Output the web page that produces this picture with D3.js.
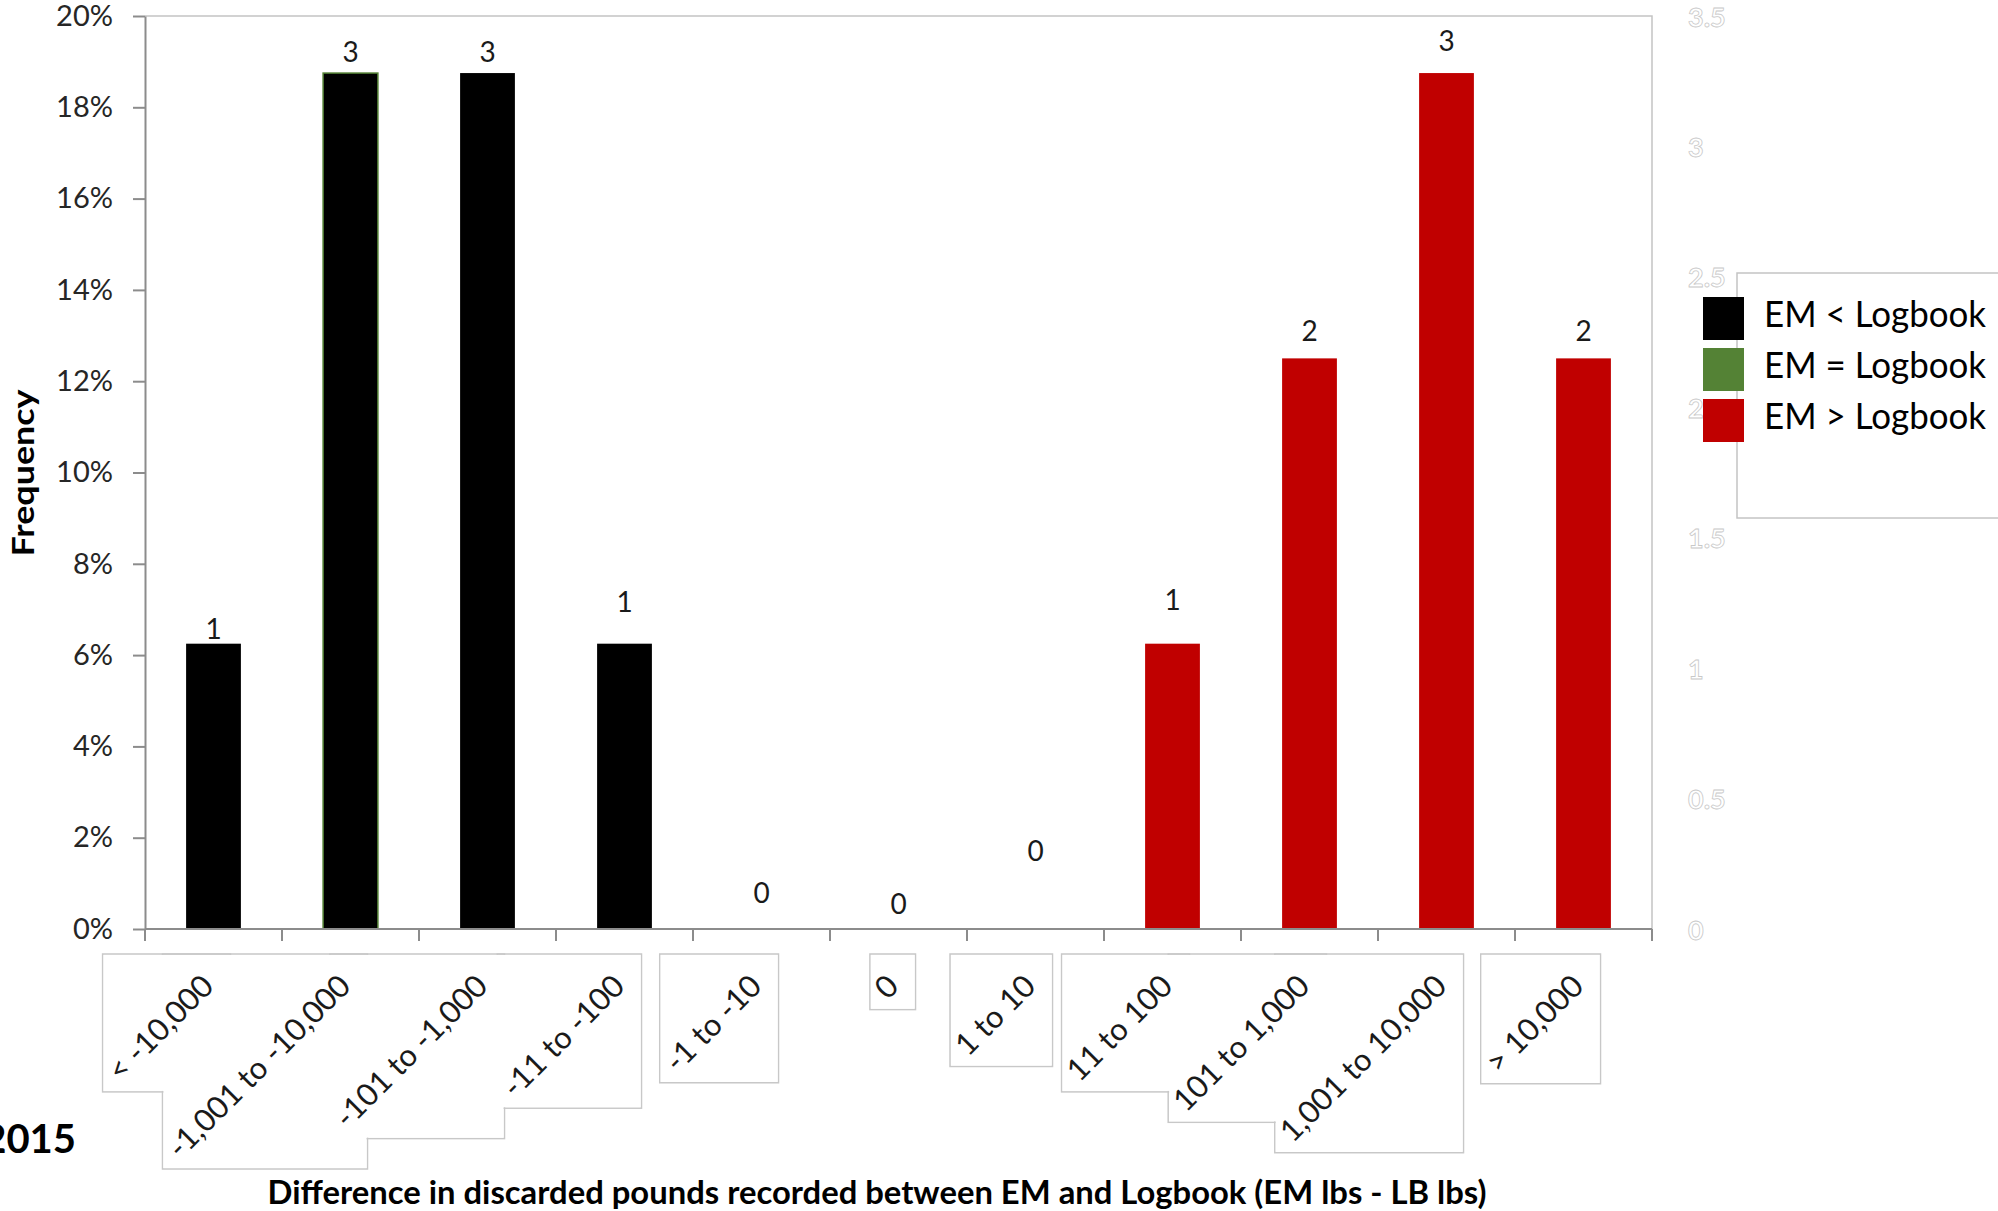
<!DOCTYPE html>
<html><head><meta charset="utf-8">
<script src="https://cdn.jsdelivr.net/npm/d3@7"></script>
<style>body{margin:0;background:#fff;} svg{display:block;font-family:Lato,"Open Sans",sans-serif;}</style>
</head><body>
<svg id="chart" width="1998" height="1211"></svg>
<script>
// ---------------- data ----------------
const categories = ["< -10,000","-1,001 to -10,000","-101 to -1,000","-11 to -100","-1 to -10","0","1 to 10","11 to 100","101 to 1,000","1,001 to 10,000","> 10,000"];
const counts = [1,3,3,1,0,0,0,1,2,3,2];
const seriesOf = ["lt","lt","lt","lt","lt","eq","gt","gt","gt","gt","gt"];
const seriesKeys = ["lt","eq","gt"];
const seriesNames = ["EM < Logbook","EM = Logbook","EM > Logbook"];
const yTicks = [0,0.02,0.04,0.06,0.08,0.10,0.12,0.14,0.16,0.18,0.20];
const y2Ticks = [0,0.5,1,1.5,2,2.5,3,3.5];
const yTitle = "Frequency";
const xTitle = "Difference in discarded pounds recorded between EM and Logbook (EM lbs - LB lbs)";
const yearLabel = "2015";

// ---------------- drawing ----------------
const colors = {lt:"#000000", eq:"#548235", gt:"#C00000"};
const total = d3.sum(counts);
const freq = counts.map(c => c/total);
const L = 145, R = 1652, T = 16, B = 929;
const svg = d3.select("#chart");

const xSlot = d3.scaleBand().domain(categories).range([L,R]);
const x = d3.scaleBand().domain(categories).range([L,R]).paddingInner(0.6).paddingOuter(0.3);
const y = d3.scaleLinear().domain([0,0.2]).range([B,T]);
const y2 = d3.scaleLinear().domain([0,3.5]).range([B,T]);

// plot border (top, right)
svg.append("path").attr("d",`M${L},${T}H${R}V${B}`).attr("fill","none").attr("stroke","#c4c4c4").attr("stroke-width",1.5);

// right ghost axis labels (outlined text)
svg.append("g").selectAll("text").data(y2Ticks).join("text")
  .attr("x",1688).attr("y",d=>y2(d)).attr("dominant-baseline","central")
  .attr("font-size",27).attr("font-weight","bold").attr("fill","#fff").attr("stroke","#c8c8c8").attr("stroke-width",0.8)
  .text(d=>d3.format("")(d));

// left axis
const ya = svg.append("g").attr("transform",`translate(${L},0)`)
  .call(d3.axisLeft(y).tickValues(yTicks).tickFormat(d3.format(".0%")).tickSize(12).tickSizeOuter(0).tickPadding(20));
ya.select(".domain").attr("stroke","#8c8c8c").attr("stroke-width",2);
ya.selectAll(".tick line").attr("stroke","#8c8c8c").attr("stroke-width",2);
ya.selectAll(".tick text").attr("font-size",29).attr("fill","#262626").attr("font-family","Lato");

// bars
svg.append("g").selectAll("rect").data(categories).join("rect")
  .attr("x",c=>x(c)).attr("width",x.bandwidth())
  .attr("y",(c,i)=>y(freq[i])).attr("height",(c,i)=>B-y(freq[i]))
  .attr("fill",(c,i)=>colors[seriesOf[i]])
  .attr("stroke",(c,i)=> i===1 ? colors.eq : "none").attr("stroke-width",1.5);

// bottom axis
const xa = svg.append("g");
xa.append("line").attr("x1",L).attr("x2",R).attr("y1",B).attr("y2",B).attr("stroke","#8c8c8c").attr("stroke-width",2);
const boundaries = categories.map(c=>xSlot(c)).concat([R]);
xa.selectAll("line.tk").data(boundaries).join("line").attr("class","tk")
  .attr("x1",d=>d).attr("x2",d=>d).attr("y1",B).attr("y2",B+12).attr("stroke","#8c8c8c").attr("stroke-width",2);

// data labels (Excel manual nudges)
const nudge = [16,22,22,43,37,26,79,45,28,33,28];
svg.append("g").selectAll("text").data(categories).join("text")
  .attr("x",c=>xSlot(c)+xSlot.bandwidth()/2).attr("y",(c,i)=>y(freq[i])-nudge[i])
  .attr("text-anchor","middle").attr("dominant-baseline","central")
  .attr("font-size",28).attr("fill","#1a1a1a").text((c,i)=>counts[i]);

// x tick labels with Excel-like boxes
const boxG = svg.append("g");
const labG = svg.append("g");
const boxes = [];
categories.forEach(c=>{
  const g = labG.append("g");
  const t = g.append("text").attr("transform","rotate(-45)").attr("text-anchor","end")
    .attr("font-size",31).attr("fill","#1a1a1a").text(c);
  const bb = t.node().getBoundingClientRect();
  const cx = xSlot(c)+xSlot.bandwidth()/2;
  const dx = cx+7-bb.right, dy = 966-bb.top;
  g.attr("transform",`translate(${dx},${dy})`);
  boxes.push({x0:bb.left+dx+4, x1:bb.right+dx+10, y0:954, y1:bb.bottom+dy+4});
});
boxG.selectAll("rect.o").data(boxes).join("rect").attr("class","o")
  .attr("x",d=>d.x0).attr("y",d=>d.y0).attr("width",d=>d.x1-d.x0).attr("height",d=>d.y1-d.y0)
  .attr("fill","none").attr("stroke","#c8c8c8").attr("stroke-width",1.5);
boxG.selectAll("rect.f").data(boxes).join("rect").attr("class","f")
  .attr("x",d=>d.x0+1).attr("y",d=>d.y0+1).attr("width",d=>d.x1-d.x0-2).attr("height",d=>d.y1-d.y0-2)
  .attr("fill","#fff");

// legend
svg.append("rect").attr("x",1737).attr("y",273).attr("width",300).attr("height",245)
  .attr("fill","#fff").attr("stroke","#c4c4c4").attr("stroke-width",1.5);
const lg = svg.append("g").selectAll("g").data(seriesKeys).join("g")
  .attr("transform",(d,i)=>`translate(0,${297+i*51})`);
lg.append("rect").attr("x",1703).attr("y",0).attr("width",41).attr("height",43).attr("fill",d=>colors[d]);
lg.append("text").attr("x",1764).attr("y",30).attr("font-size",36).attr("fill","#000")
  .attr("textLength",222).attr("lengthAdjust","spacingAndGlyphs").text((d,i)=>seriesNames[i]);

// titles
svg.append("text").attr("transform","translate(22,473) rotate(-90)").attr("text-anchor","middle")
  .attr("dominant-baseline","central").attr("font-weight","bold").attr("font-size",31)
  .attr("textLength",167).attr("lengthAdjust","spacingAndGlyphs").text(yTitle);
svg.append("text").attr("x",877).attr("y",1191).attr("text-anchor","middle")
  .attr("dominant-baseline","central").attr("font-weight","bold").attr("font-size",32)
  .attr("textLength",1219).attr("lengthAdjust","spacingAndGlyphs").text(xTitle);
svg.append("text").attr("x",76).attr("y",1138).attr("text-anchor","end")
  .attr("dominant-baseline","central").attr("font-weight","bold").attr("font-size",40).text(yearLabel);
</script>
</body></html>
